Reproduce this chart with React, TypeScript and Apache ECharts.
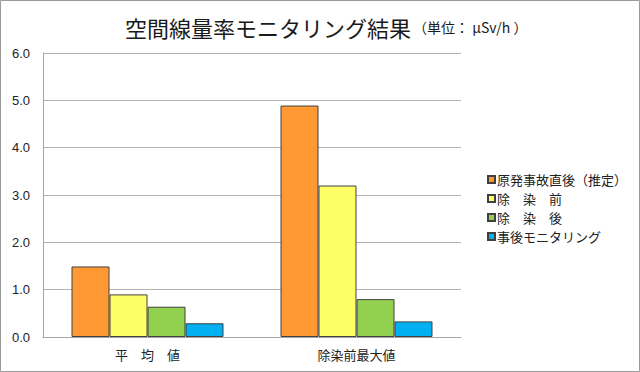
import React, { useEffect, useRef } from "react";
import * as echarts from "echarts";

const categories = ["平　均　値", "除染前最大値"];
const seriesNames = ["原発事故直後（推定）", "除　染　前", "除　染　後", "事後モニタリング"];
const accidentValues = [1.49, 4.89];
const beforeValues = [0.9, 3.2];
const afterValues = [0.64, 0.8];
const monitoringValues = [0.29, 0.33];
const yTicks = ["0.0", "1.0", "2.0", "3.0", "4.0", "5.0", "6.0"];
const colors = ["#FF9933", "#FFFF66", "#92D050", "#00B0F0"];

const FONT = "'Noto Sans CJK JP', 'Liberation Sans', sans-serif";

export default function App() {
  const ref = useRef<HTMLDivElement>(null);
  useEffect(() => {
    document.body.style.margin = "0";
    const chart = echarts.init(ref.current!, null, { renderer: "svg" });
    const dataSets = [accidentValues, beforeValues, afterValues, monitoringValues];
    chart.setOption({
      animation: false,
      textStyle: { fontFamily: FONT },
      graphic: [
        {
          type: "rect",
          shape: { x: 0.5, y: 0.5, width: 639, height: 371 },
          style: { fill: "none", stroke: "#9a9a9a", lineWidth: 1 },
          silent: true,
        },
      ],
      title: [
        {
          left: 120,
          top: 11,
          text: "空間線量率モニタリング結果",
          textStyle: { fontSize: 22, color: "#1a1a1a", fontFamily: FONT, fontWeight: "normal" },
        },
        {
          left: 408,
          top: 15,
          text: "（単位： μSv/h ）",
          textStyle: { fontSize: 14, color: "#1a1a1a", fontFamily: FONT, fontWeight: "normal" },
        },
      ],
      legend: {
        orient: "vertical",
        left: 482,
        top: 168,
        itemWidth: 7,
        itemHeight: 7,
        itemGap: 6,
        icon: "rect",
        textStyle: { fontSize: 13, color: "#222", lineHeight: 13, padding: [0, 0, 0, -3] },
        data: seriesNames,
      },
      grid: { left: 43, right: 179, top: 53, bottom: 35 },
      xAxis: {
        type: "category",
        data: categories,
        axisTick: { show: false },
        axisLine: { lineStyle: { color: "#a6a6a6", width: 1 } },
        axisLabel: { fontSize: 13, color: "#222", margin: 11 },
      },
      yAxis: {
        type: "value",
        min: 0,
        max: 6,
        interval: 1,
        axisLine: { show: true, lineStyle: { color: "#a6a6a6", width: 1 } },
        axisTick: { show: false },
        axisLabel: {
          fontSize: 13,
          color: "#222",
          margin: 13,
          fontFamily: "'Liberation Sans', sans-serif",
          formatter: (v: number) => yTicks[Math.round(v)] ?? v.toFixed(1),
        },
        splitLine: { lineStyle: { color: "#b3b3b3", width: 1 } },
      },
      series: seriesNames.map((name, i) => ({
        name,
        type: "bar",
        data: dataSets[i],
        barWidth: 38,
        barGap: "0%",
        itemStyle: { color: colors[i], borderColor: "#404040", borderWidth: 1 },
      })),
    });
    return () => chart.dispose();
  }, []);
  return <div ref={ref} style={{ width: 640, height: 372 }} />;
}
